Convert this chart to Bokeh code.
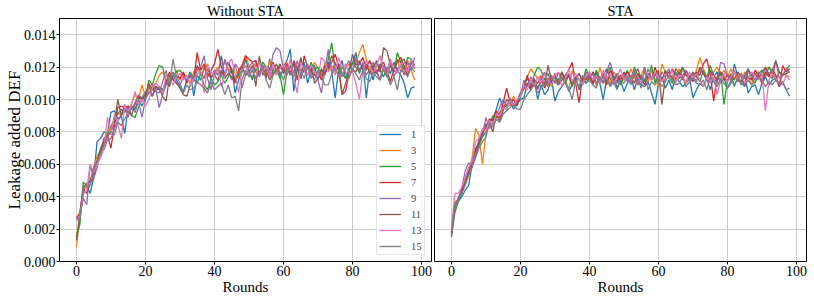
from bokeh.plotting import figure
from bokeh.layouts import row
from bokeh.models import FixedTicker, PrintfTickFormatter, Legend, LegendItem, Range1d
from bokeh.embed import file_html
from bokeh.resources import INLINE

# ---------------- data (values in units of 1e-5) ----------------
rounds = list(range(99))
series_labels = ["1", "3", "5", "7", "9", "11", "13", "15"]
colors = ["#1f77b4", "#ff7f0e", "#2ca02c", "#d62728", "#9467bd", "#8c564b", "#e377c2", "#7f7f7f"]
x_ticks = [0, 20, 40, 60, 80, 100]
y_ticks = [0.000, 0.002, 0.004, 0.006, 0.008, 0.010, 0.012, 0.014]
unit = 1e-5

wo_1 = [150, 250, 440, 470, 420, 520, 740, 760, 800, 790,
        920, 930, 880, 900, 790, 950, 960, 940, 1000, 960,
        1010, 1040, 1060, 1050, 1080, 1060, 1110, 1130, 1150, 1120,
        1080, 1050, 1120, 1170, 1020, 1150, 1120, 1200, 1160, 1130,
        1180, 1150, 1270, 1140, 1230, 1190, 1040, 1120, 1170, 1250,
        1180, 1120, 1240, 1150, 1210, 1130, 1250, 1160, 1190, 1130,
        1200, 1240, 1310, 1050, 1200, 1150, 1230, 1100, 1180, 1210,
        1120, 1190, 1150, 1230, 1170, 1010, 1190, 1240, 1130, 1180,
        1220, 1290, 1160, 1230, 1010, 1190, 1120, 1230, 1180, 1140,
        1200, 1160, 1230, 1180, 1150, 1100, 1010, 1070, 1080]
wo_3 = [90, 270, 430, 480, 500, 580, 650, 680, 720, 800,
        840, 870, 920, 900, 940, 910, 980, 1030, 1000, 1090,
        1020, 1060, 1080, 1100, 1150, 1170, 1120, 1100, 1140, 1180,
        1120, 1160, 1140, 1100, 1170, 1200, 1150, 1180, 1220, 1140,
        1170, 1200, 1150, 1240, 1190, 1160, 1210, 1130, 1190, 1270,
        1210, 1170, 1230, 1150, 1200, 1160, 1240, 1190, 1150, 1210,
        1180, 1230, 1150, 1220, 1190, 1250, 1170, 1210, 1160, 1230,
        1190, 1140, 1230, 1180, 1210, 1170, 1220, 1150, 1190, 1220,
        1180, 1230, 1290, 1340, 1250, 1170, 1220, 1180, 1120, 1210,
        1160, 1230, 1190, 1250, 1170, 1200, 1240, 1180, 1120]
wo_5 = [150, 230, 490, 470, 500, 560, 620, 700, 740, 780,
        820, 880, 910, 940, 920, 960, 900, 890, 950, 1000,
        1010, 1120, 1090, 1160, 1210, 1200, 1110, 1080, 1150, 1170,
        1180, 1150, 1120, 1170, 1130, 1100, 1160, 1090, 1060, 1130,
        1090, 1110, 1150, 1100, 1140, 1190, 1120, 1150, 1180, 1210,
        1170, 1130, 1190, 1160, 1230, 1200, 1140, 1180, 1220, 1150,
        1030, 1170, 1210, 1160, 1200, 1130, 1190, 1150, 1230, 1180,
        1200, 1160, 1150, 1250, 1350, 1180, 1220, 1160, 1130, 1190,
        1230, 1200, 1170, 1210, 1180, 1240, 1190, 1160, 1220, 1180,
        1140, 1210, 1170, 1290, 1230, 1180, 1260, 1250, 1210]
wo_7 = [270, 300, 460, 480, 490, 510, 620, 680, 760, 780,
        700, 840, 950, 960, 950, 960, 940, 970, 1020, 1000,
        1030, 1100, 1060, 1080, 1060, 1050, 1110, 1170, 1120, 1150,
        1130, 1170, 1100, 1150, 1120, 1290, 1180, 1220, 1140, 1180,
        1220, 1310, 1200, 1150, 1230, 1170, 1110, 1180, 1210, 1270,
        1250, 1230, 1240, 1160, 1200, 1140, 1190, 1230, 1170, 1200,
        1180, 1220, 1160, 1240, 1190, 1130, 1270, 1200, 1180, 1150,
        1170, 1120, 1210, 1190, 1230, 1280, 1200, 1030, 1050, 1160,
        1180, 1170, 1220, 1260, 1190, 1240, 1180, 1160, 1200, 1230,
        1170, 1110, 1190, 1230, 1260, 1200, 1150, 1230, 1190]
wo_9 = [260, 280, 390, 350, 600, 510, 580, 680, 690, 750,
        760, 820, 870, 900, 970, 890, 960, 920, 990, 890,
        1000, 1050, 1020, 1070, 950, 1030, 1090, 1130, 1170, 1100,
        1090, 1140, 1120, 1160, 1110, 1180, 1200, 1270, 1130, 1060,
        1160, 1190, 1140, 1250, 1180, 1120, 1220, 1190, 1070, 1150,
        1200, 1230, 1170, 1140, 1210, 1190, 1160, 1280, 1320, 1300,
        1190, 1150, 1200, 1170, 1240, 1140, 1190, 1220, 1130, 1170,
        1120, 1040, 1180, 1310, 1170, 1230, 1180, 1140, 1200, 1240,
        1170, 1260, 1180, 1220, 1150, 1190, 1230, 1170, 1120, 1210,
        1180, 1250, 1140, 1190, 1210, 1150, 1230, 1180, 1260]
wo_11 = [130, 300, 450, 420, 480, 560, 610, 690, 730, 780,
         800, 850, 1000, 900, 960, 940, 900, 980, 1010, 1000,
         1030, 1090, 1020, 1080, 1070, 1020, 990, 1150, 1120, 1100,
         1070, 1030, 1020, 1090, 1130, 1210, 1170, 1130, 1190, 1140,
         1150, 1120, 1180, 1130, 1160, 1140, 1100, 1170, 1200, 1150,
         1170, 1210, 1080, 1270, 1150, 1190, 1120, 1160, 1180, 1220,
         1160, 1200, 1150, 1230, 1120, 1260, 1170, 1190, 1210, 1100,
         1130, 1180, 1160, 1200, 1270, 1220, 1180, 1030, 1100, 1170,
         1280, 1210, 1240, 1180, 1220, 1160, 1200, 1240, 1170, 1320,
         1300, 1210, 1170, 1240, 1230, 1250, 1180, 1240, 1210]
wo_13 = [250, 280, 410, 450, 600, 550, 600, 640, 700, 890,
         780, 910, 850, 760, 960, 930, 970, 1050, 970, 1000,
         960, 1000, 1070, 1100, 1080, 1040, 1150, 1130, 1090, 1140,
         1160, 1120, 1150, 1090, 1130, 1150, 1180, 1040, 1210, 1170,
         1140, 1190, 1080, 1150, 1220, 1250, 1160, 1040, 1180, 1210,
         1150, 1190, 1130, 1230, 1170, 1200, 1140, 1220, 1160, 1190,
         1220, 1170, 1250, 1130, 1040, 1230, 1180, 1150, 1210, 1170,
         1140, 1260, 1230, 1170, 1200, 1150, 1260, 1190, 1220, 1160,
         1170, 1100, 1000, 1170, 1240, 1200, 1160, 1210, 1270, 1180,
         1150, 1240, 1190, 1160, 1220, 1230, 1170, 1250, 1190]
wo_15 = [270, 260, 470, 460, 470, 580, 620, 660, 720, 770,
         800, 780, 860, 840, 880, 920, 940, 980, 1030, 1010,
         1050, 1070, 1100, 1050, 1040, 1110, 1180, 1090, 1250, 1140,
         1100, 1040, 1090, 1060, 1070, 1110, 1090, 1070, 1040, 1110,
         1060, 1080, 1100, 1030, 1090, 1010, 1020, 930, 1120, 1180,
         1140, 1180, 1130, 1160, 1200, 1120, 1070, 1150, 1190, 1170,
         1120, 1190, 1160, 1140, 1200, 1180, 1130, 1210, 1160, 1120,
         1180, 1140, 1090, 1090, 1160, 1190, 1140, 1200, 1170, 1130,
         1190, 1160, 1120, 1180, 1130, 1110, 1170, 1140, 1120, 1190,
         1150, 1090, 1140, 1060, 1180, 1170, 1140, 1200, 1170]

sta_1 = [160, 340, 370, 400, 440, 470, 600, 650, 720, 770,
         800, 860, 880, 940, 1010, 950, 960, 990, 940, 970,
         1000, 1010, 1100, 1060, 1120, 1000, 1090, 1030, 1060, 1130,
         990, 1050, 1080, 1110, 1050, 1090, 1140, 1060, 1120, 1100,
         1140, 1090, 1170, 1100, 1000, 1130, 1080, 1150, 1070, 1120,
         1050, 1100, 1140, 1060, 1130, 1090, 1080, 1110, 1040, 970,
         1100, 1140, 1070, 1120, 1060, 1140, 1110, 1080, 1100, 1130,
         1010, 1060, 1100, 1080, 1130, 1060, 1140, 1170, 1100, 1130,
         1070, 1100, 1220, 1140, 1090, 1150, 1040, 1080, 1090, 1030,
         1100, 1140, 1090, 1120, 1130, 1080, 1110, 1060, 1020]
sta_3 = [180, 370, 380, 430, 500, 560, 640, 820, 780, 600,
         790, 860, 850, 900, 880, 960, 970, 960, 1020, 980,
         1040, 1060, 1140, 1190, 1160, 1130, 1150, 1100, 1120, 1080,
         1150, 1090, 1170, 1120, 1060, 1180, 1110, 1130, 1090, 1150,
         1110, 1170, 1080, 1200, 1130, 1150, 1100, 1170, 1140, 1090,
         1160, 1120, 1190, 1140, 1090, 1150, 1200, 1110, 1180, 1130,
         1080, 1220, 1170, 1130, 1150, 1110, 1190, 1140, 1100, 1160,
         1120, 1180, 1260, 1190, 1140, 1130, 1170, 1200, 1150, 1180,
         1140, 1190, 1130, 1160, 1100, 1170, 1140, 1090, 1180, 1150,
         1120, 1190, 1200, 1170, 1140, 1090, 1160, 1150, 1140]
sta_5 = [150, 300, 370, 420, 500, 550, 620, 700, 720, 780,
         850, 840, 900, 890, 920, 950, 940, 1000, 960, 970,
         1010, 1080, 1130, 1090, 1150, 1200, 1180, 1120, 1160, 1100,
         1140, 1120, 1170, 1100, 1150, 1080, 1130, 1160, 1110, 1190,
         1140, 1120, 1180, 1130, 1100, 1160, 1200, 1120, 1150, 1090,
         1140, 1180, 1110, 1200, 1150, 1120, 1170, 1130, 1210, 1100,
         1150, 1120, 1180, 1140, 1100, 1170, 1130, 1190, 1150, 1120,
         1160, 1140, 1110, 1180, 1130, 1210, 1150, 1120, 1170, 970,
         1120, 1160, 1080, 1140, 1110, 1150, 1190, 1130, 1100, 1160,
         1180, 1140, 1200, 1160, 1120, 1170, 1150, 1180, 1210]
sta_7 = [170, 330, 390, 430, 480, 560, 600, 690, 740, 800,
         820, 880, 870, 930, 890, 980, 1070, 980, 1000, 960,
         1030, 1080, 1150, 1060, 1120, 1100, 1140, 1070, 1130, 1100,
         1160, 1090, 1120, 1150, 1180, 1230, 1100, 980, 1140, 1120,
         1170, 1100, 1150, 1120, 1160, 1090, 1180, 1140, 1110, 1150,
         1120, 1170, 1140, 1100, 1160, 1130, 1090, 1150, 1120, 1200,
         1140, 1110, 1170, 1130, 1190, 1150, 1160, 1120, 1180, 1140,
         1110, 1170, 1150, 1220, 1250, 1160, 990, 1140, 1170, 1120,
         1150, 1130, 1170, 1110, 1160, 1090, 1140, 1120, 1180, 1150,
         1100, 1170, 1140, 1190, 1150, 1080, 1210, 1170, 1190]
sta_9 = [160, 330, 380, 450, 560, 610, 590, 660, 760, 780,
         890, 820, 860, 900, 950, 1000, 960, 1010, 970, 990,
         1020, 1120, 1080, 1140, 1100, 1060, 1130, 1170, 1090, 1150,
         1100, 1170, 1130, 1120, 1160, 1100, 1140, 1120, 1090, 1170,
         1130, 1160, 1100, 1140, 1110, 1170, 1230, 1150, 1100, 1130,
         1160, 1110, 1140, 1180, 1090, 1150, 1120, 1190, 1130, 1160,
         1110, 1170, 1140, 1190, 1120, 1160, 1130, 1150, 1180, 1120,
         1150, 1110, 1190, 1160, 1120, 1170, 1140, 1100, 1230, 1220,
         1150, 1120, 1180, 1110, 1160, 1130, 1190, 1150, 1120, 1170,
         1140, 1190, 1160, 1180, 1240, 1130, 1150, 1190, 1170]
sta_11 = [180, 350, 390, 440, 490, 540, 620, 680, 730, 790,
          840, 860, 800, 900, 870, 930, 1000, 980, 960, 990,
          1040, 1070, 1100, 1080, 1130, 1070, 1110, 1090, 1210, 1120,
          1140, 1100, 1170, 1120, 1150, 1090, 1130, 1160, 1110, 1140,
          1120, 1170, 1140, 1100, 1150, 1190, 1130, 1110, 1160, 1120,
          1170, 1140, 1100, 1150, 1190, 1130, 1110, 1160, 1120, 1150,
          1180, 970, 1140, 1170, 1120, 1190, 1160, 1200, 1150, 1130,
          1170, 1140, 1200, 1160, 1130, 1180, 1150, 1120, 1170, 1140,
          1110, 1150, 1120, 1170, 1140, 1080, 1180, 1150, 1160, 1130,
          1170, 1200, 1150, 1130, 1240, 1170, 1150, 1160, 1170]
sta_13 = [200, 420, 420, 460, 520, 580, 620, 740, 760, 820,
          810, 870, 840, 910, 900, 950, 940, 990, 960, 1000,
          1020, 1090, 1060, 1120, 1080, 1140, 1100, 1160, 1120, 1090,
          1150, 1170, 1080, 1130, 1190, 1110, 1160, 1120, 1100, 1140,
          1170, 1120, 1150, 1100, 1180, 1130, 1160, 1090, 1140, 1190,
          1120, 1150, 1110, 1170, 1140, 1100, 1180, 1150, 1120, 1170,
          1140, 1110, 1160, 1130, 1180, 1100, 1150, 1140, 1110, 1170,
          1130, 1160, 1120, 1080, 1140, 1100, 1150, 1030, 1120, 1160,
          1110, 1140, 1170, 1120, 1150, 1100, 1130, 1170, 1140, 1120,
          1150, 930, 1120, 1160, 1130, 1100, 1090, 1150, 1120]
sta_15 = [190, 360, 380, 420, 470, 530, 580, 640, 700, 740,
          770, 850, 830, 880, 860, 910, 930, 950, 970, 940,
          940, 1000, 1030, 1060, 1090, 1040, 1070, 1110, 1080, 1130,
          1110, 1090, 1140, 1100, 1070, 1000, 1120, 1080, 1150, 1100,
          1120, 1090, 1070, 1140, 1100, 1130, 1080, 1110, 1060, 1120,
          1100, 1140, 1090, 1170, 1130, 1070, 1200, 1060, 1110, 1090,
          1120, 1080, 1110, 1150, 1130, 1090, 1100, 1140, 1080, 1110,
          1130, 1100, 1090, 1120, 1060, 1140, 1110, 1080, 1130, 1100,
          1070, 1120, 1090, 1130, 1100, 1080, 1120, 1090, 1110, 1140,
          1120, 1080, 1110, 1090, 1120, 1100, 1110, 1060, 1070]

without_sta = [wo_1, wo_3, wo_5, wo_7, wo_9, wo_11, wo_13, wo_15]
with_sta = [sta_1, sta_3, sta_5, sta_7, sta_9, sta_11, sta_13, sta_15]

# ---------------- styling ----------------
FONT = "Liberation Serif"
Y_MAX = 0.015
X_MIN, X_MAX = -4.9, 102.9
HEIGHT = 299


def make_fig(width, mbl, mbr, title):
    p = figure(width=width, height=HEIGHT, title=title,
               x_range=Range1d(X_MIN, X_MAX), y_range=Range1d(0, Y_MAX),
               output_backend="svg", toolbar_location=None,
               min_border_left=mbl, min_border_right=mbr,
               min_border_top=17, min_border_bottom=38)
    p.title.align = "center"
    p.title.text_font = FONT
    p.title.text_font_size = "14.5px"
    p.title.text_font_style = "normal"
    p.title.text_color = "black"
    p.title.standoff = 0
    p.title.offset = 0
    p.background_fill_color = "white"
    p.border_fill_color = "white"
    p.outline_line_color = "black"
    p.outline_line_width = 1
    p.outline_line_alpha = 1
    for ax in (p.xaxis, p.yaxis):
        ax.axis_line_color = None
        ax.major_tick_in = 0
        ax.major_tick_out = 3
        ax.major_tick_line_color = "black"
        ax.minor_tick_line_color = None
        ax.major_label_text_font = FONT
        ax.major_label_text_font_size = "14px"
        ax.major_label_text_color = "black"
        ax.major_label_standoff = 1
        ax.axis_label_text_font = FONT
        ax.axis_label_text_font_style = "normal"
        ax.axis_label_text_color = "black"
        ax.axis_label_standoff = 0
    p.xaxis.axis_label = "Rounds"
    p.xaxis.axis_label_text_font_size = "15px"
    p.xaxis.ticker = FixedTicker(ticks=x_ticks)
    p.yaxis.ticker = FixedTicker(ticks=y_ticks)
    p.yaxis.formatter = PrintfTickFormatter(format="%.3f")
    p.xgrid.ticker = FixedTicker(ticks=x_ticks)
    p.ygrid.ticker = FixedTicker(ticks=y_ticks)
    for g in (p.xgrid, p.ygrid):
        g.grid_line_color = "#cccccc"
        g.grid_line_width = 1
        g.grid_line_alpha = 1
    return p


def draw(p, data):
    rends = []
    for vals, col in zip(data, colors):
        ys = [v * unit for v in vals]
        r = p.line(rounds, ys, line_color=col, line_width=1.3)
        rends.append(r)
    return rends


p1 = make_fig(433, 59, 2, "Without STA")
p1.yaxis.axis_label = "Leakage added DEF"
p1.yaxis.axis_label_text_font_size = "17px"
p1.yaxis.axis_label_standoff = -3
p1.yaxis.major_tick_out = 3
p1.yaxis.major_label_standoff = 1
r1 = draw(p1, without_sta)
legend = Legend(items=[LegendItem(label=lab, renderers=[r]) for lab, r in zip(series_labels, r1)],
                location=(317, 6))
legend.margin = 0
legend.padding = 2
legend.spacing = 4
legend.glyph_width = 22
legend.glyph_height = 12
legend.label_height = 12
legend.label_width = 11
legend.label_standoff = 10
legend.label_text_font = FONT
legend.label_text_font_size = "10.5px"
legend.border_line_color = "#cccccc"
legend.border_line_width = 1
legend.background_fill_color = "white"
legend.background_fill_alpha = 0.8
p1.add_layout(legend)

p2 = make_fig(380, 1, 7, "STA")
p2.yaxis.visible = False
draw(p2, with_sta)

layout = row(p1, p2)
open("out.html", "w").write(file_html(layout, INLINE))
